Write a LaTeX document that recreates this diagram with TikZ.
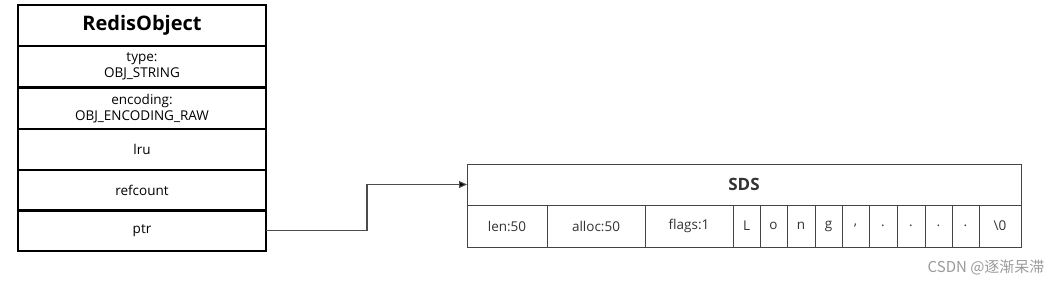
\documentclass[tikz,border=0pt]{standalone}
\usepackage{fontspec}
\setmainfont{Open Sans}
\newfontfamily\cjkfont{Noto Sans CJK SC}
\usetikzlibrary{positioning,arrows.meta}

\definecolor{sdsgray}{HTML}{444444}
\definecolor{sdstext}{HTML}{333333}
\definecolor{marktext}{HTML}{9A9A9A}

\tikzset{
  objrow/.style={draw=black, line width=1.8pt, minimum width=248pt, minimum height=41pt,
    inner sep=0pt, outer sep=0pt, anchor=north west, align=center, font=\fontsize{13.5}{16}\selectfont},
  sdscell/.style={draw=sdsgray, line width=0.9pt, minimum height=42pt, inner sep=0pt,
    outer sep=0pt, anchor=north west, text=sdstext, font=\fontsize{13.5}{16}\selectfont},
  conn/.style={draw=black!70, line width=1.1pt, -{Triangle[length=8pt,width=7pt,fill=black]}}
}

\begin{document}
\begin{tikzpicture}[x=1pt,y=-1pt]
    \useasboundingbox (0,0) rectangle (1063,285);

    % RedisObject
    \node[objrow, font=\fontsize{20}{22}\selectfont\bfseries] (title) at (18,5) {RedisObject};
    \node[objrow] (type) at (18,46) {type:\\OBJ\_STRING};
    \node[objrow] (enc) at (18,88) {encoding:\\OBJ\_ENCODING\_RAW};
    \node[objrow] (lru) at (18,129) {lru};
    \node[objrow] (ref) at (18,170) {refcount};
    \node[objrow] (ptr) at (18,210) {ptr};

    % SDS
    \node[sdscell, minimum width=554pt, minimum height=41pt, font=\fontsize{17}{18}\selectfont\bfseries] (sds) at (467,164) {SDS};
    \foreach \l/\r/\txt [count=\i] in {467/547/len:50, 547/645/alloc:50, 645/733/flags:1,
        733/760/L, 760/787/o, 787/815/n, 815/842/g, 842/869/{,}, 869/897/., 897/925/.,
        925/952/., 952/979/., 979/1021/\textbackslash0}
      \node[sdscell, minimum width={\r-\l}] (cell\i) at (\l,205) {\txt};

    \coordinate (bend) at (367,210);
    \draw[conn] (ptr.east) -- (ptr.east -| bend) |- (sds.west);

    \node[text=marktext, anchor=east, font=\cjkfont\fontsize{15}{16}\selectfont] (mark) at (1048,268) {CSDN @逐渐呆滞};
\end{tikzpicture}
\end{document}
